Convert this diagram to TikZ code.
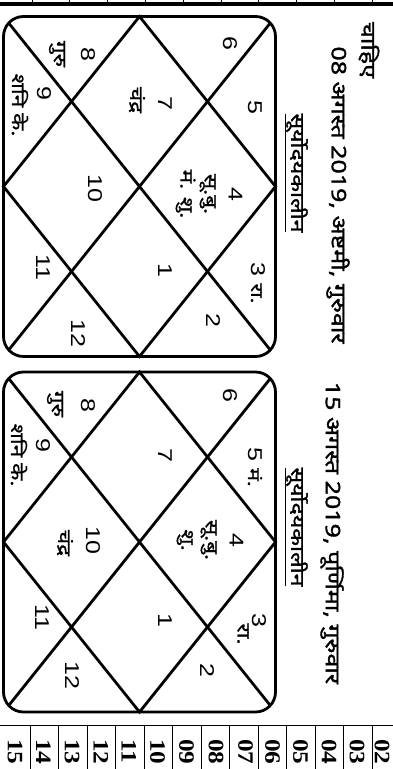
\documentclass[tikz,border=0pt]{standalone}
\usepackage{fontspec}
\setmainfont{Liberation Sans}
\newfontfamily\digits[FakeStretch=1.25]{Liberation Sans}
\newfontfamily\hindi[Script=Devanagari, FakeStretch=1.25, FakeBold=0.8]{Noto Sans}
\newfontfamily\hindihead[Script=Devanagari, FakeStretch=1.25, FakeBold=1.6]{Noto Sans}
\newfontfamily\tblfont[FakeStretch=1.15]{Liberation Serif}
\usepackage{tikz}
\usetikzlibrary{positioning}

\begin{document}
\begin{tikzpicture}[
    x=1pt, y=-1pt,
    chart/.style={rectangle, draw, line width=2.8pt, rounded corners=20pt, minimum width=272pt, minimum height=340pt, inner sep=0pt, outer sep=0pt},
    kline/.style={line width=2.8pt},
    num/.style={rotate=-90, inner sep=1pt, font=\digits\fontsize{20}{24}\selectfont},
    lbl/.style={rotate=-90, inner sep=1pt, align=center, font=\hindi\fontsize{18}{24}\selectfont},
    head/.style={rotate=-90, inner sep=1pt, font=\hindihead\fontsize{20}{23}\selectfont},
    cell/.style={rotate=-90, anchor=west, inner sep=0pt, font=\tblfont\bfseries\fontsize{22}{22}\selectfont}
]
\useasboundingbox (0,0) rectangle (393,769);

% Top rule
\draw[line width=4.5pt] (0,3.8) -- (393,3.8);
\foreach \i in {0,...,9}
    \draw[line width=0.8pt] (32+37.8*\i,0) -- (32+37.8*\i,2);

% Headings
\node[head] (more) at (369,50) {चाहिए};
\node[head] (date1) at (338,195) {08 अगस्त 2019, अष्टमी, गुरुवार};
\node[head, font=\hindihead\fontsize{18.5}{22}\selectfont] (kal1) at (296,173) {\underline{सूर्योदयकालीन}};
\node[head] (date2) at (332,533) {15 अगस्त 2019, पूर्णिमा, गुरुवार};
\node[head, font=\hindihead\fontsize{18.5}{22}\selectfont] (kal2) at (296,527) {\underline{सूर्योदयकालीन}};

% Charts
\foreach \c/\cy in {kc1/186.5, kc2/542} {
    \node[chart] (\c) at (139.5,\cy) {};
    \begin{scope}
        \clip[rounded corners=20pt] (\c.south west) rectangle (\c.north east);
        \draw[kline] (\c.north west) -- (\c.south east) (\c.north east) -- (\c.south west);
    \end{scope}
    \draw[kline, line join=miter] (\c.north) -- (\c.east) -- (\c.south) -- (\c.west) -- cycle;
}

% Chart 1: 08 August
\node[num] (a6) at (230,43) {6};
\node[num] (a5) at (255,107) {5};
\node[lbl] (a4) at (209,194) {{\digits\fontsize{20}{24}\selectfont 4}\\सू.बु.\\मं. शु.};
\node[num] (a3) at (258,283) {3 {\hindi\fontsize{17}{20}\selectfont रा.}};
\node[num] (a2) at (213,320) {2};
\node[num] (a1) at (165,270) {1};
\node[num] (a12) at (78,333) {12};
\node[num] (a11) at (43,267) {11};
\node[num] (a10) at (95,188) {10};
\node[num] (a9) at (44,93) {9};
\node[lbl] (a9p) at (20,105) {शनि के.};
\node[num] (a8) at (88,54) {8};
\node[lbl] (a8p) at (57,54) {गुरु};
\node[num] (a7) at (165,103) {7};
\node[lbl] (a7p) at (137,100) {चंद्र};

% Chart 2: 15 August
\node[num] (b6) at (230,395) {6};
\node[num] (b5) at (255,467) {5 {\hindi\fontsize{17}{20}\selectfont मं.}};
\node[lbl] (b4) at (210,540) {{\digits\fontsize{20}{24}\selectfont 4}\\सू.बु.\\शु.};
\node[num] (b3) at (259,620) {3};
\node[lbl] (b3p) at (243,634) {रा.};
\node[num] (b2) at (207,670) {2};
\node[num] (b1) at (165,620) {1};
\node[num] (b12) at (72,675) {12};
\node[num] (b11) at (42,617) {11};
\node[num] (b10) at (93,540) {10};
\node[lbl] (b10p) at (65,543) {चंद्र};
\node[num] (b9) at (43,445) {9};
\node[lbl] (b9p) at (19,455) {शनि के.};
\node[num] (b8) at (88,405) {8};
\node[lbl] (b8p) at (55,404) {गुरु};
\node[num] (b7) at (165,455) {7};

% Bottom table
\draw[line width=0.8pt] (0,725) -- (393,725);
\foreach \i in {1,...,13}
    \draw[line width=0.8pt] (1.5+28.5*\i,725) -- (1.5+28.5*\i,769);
\foreach \n/\tx in {15/15, 14/43.5, 13/72, 12/101, 11/129, 10/157.5, 09/186.5, 08/216, 07/245.5, 06/272.5, 05/300.5, 04/329, 03/357, 02/382}
    \node[cell] (t\n) at (\tx,739) {\n};

\end{tikzpicture}
\end{document}
